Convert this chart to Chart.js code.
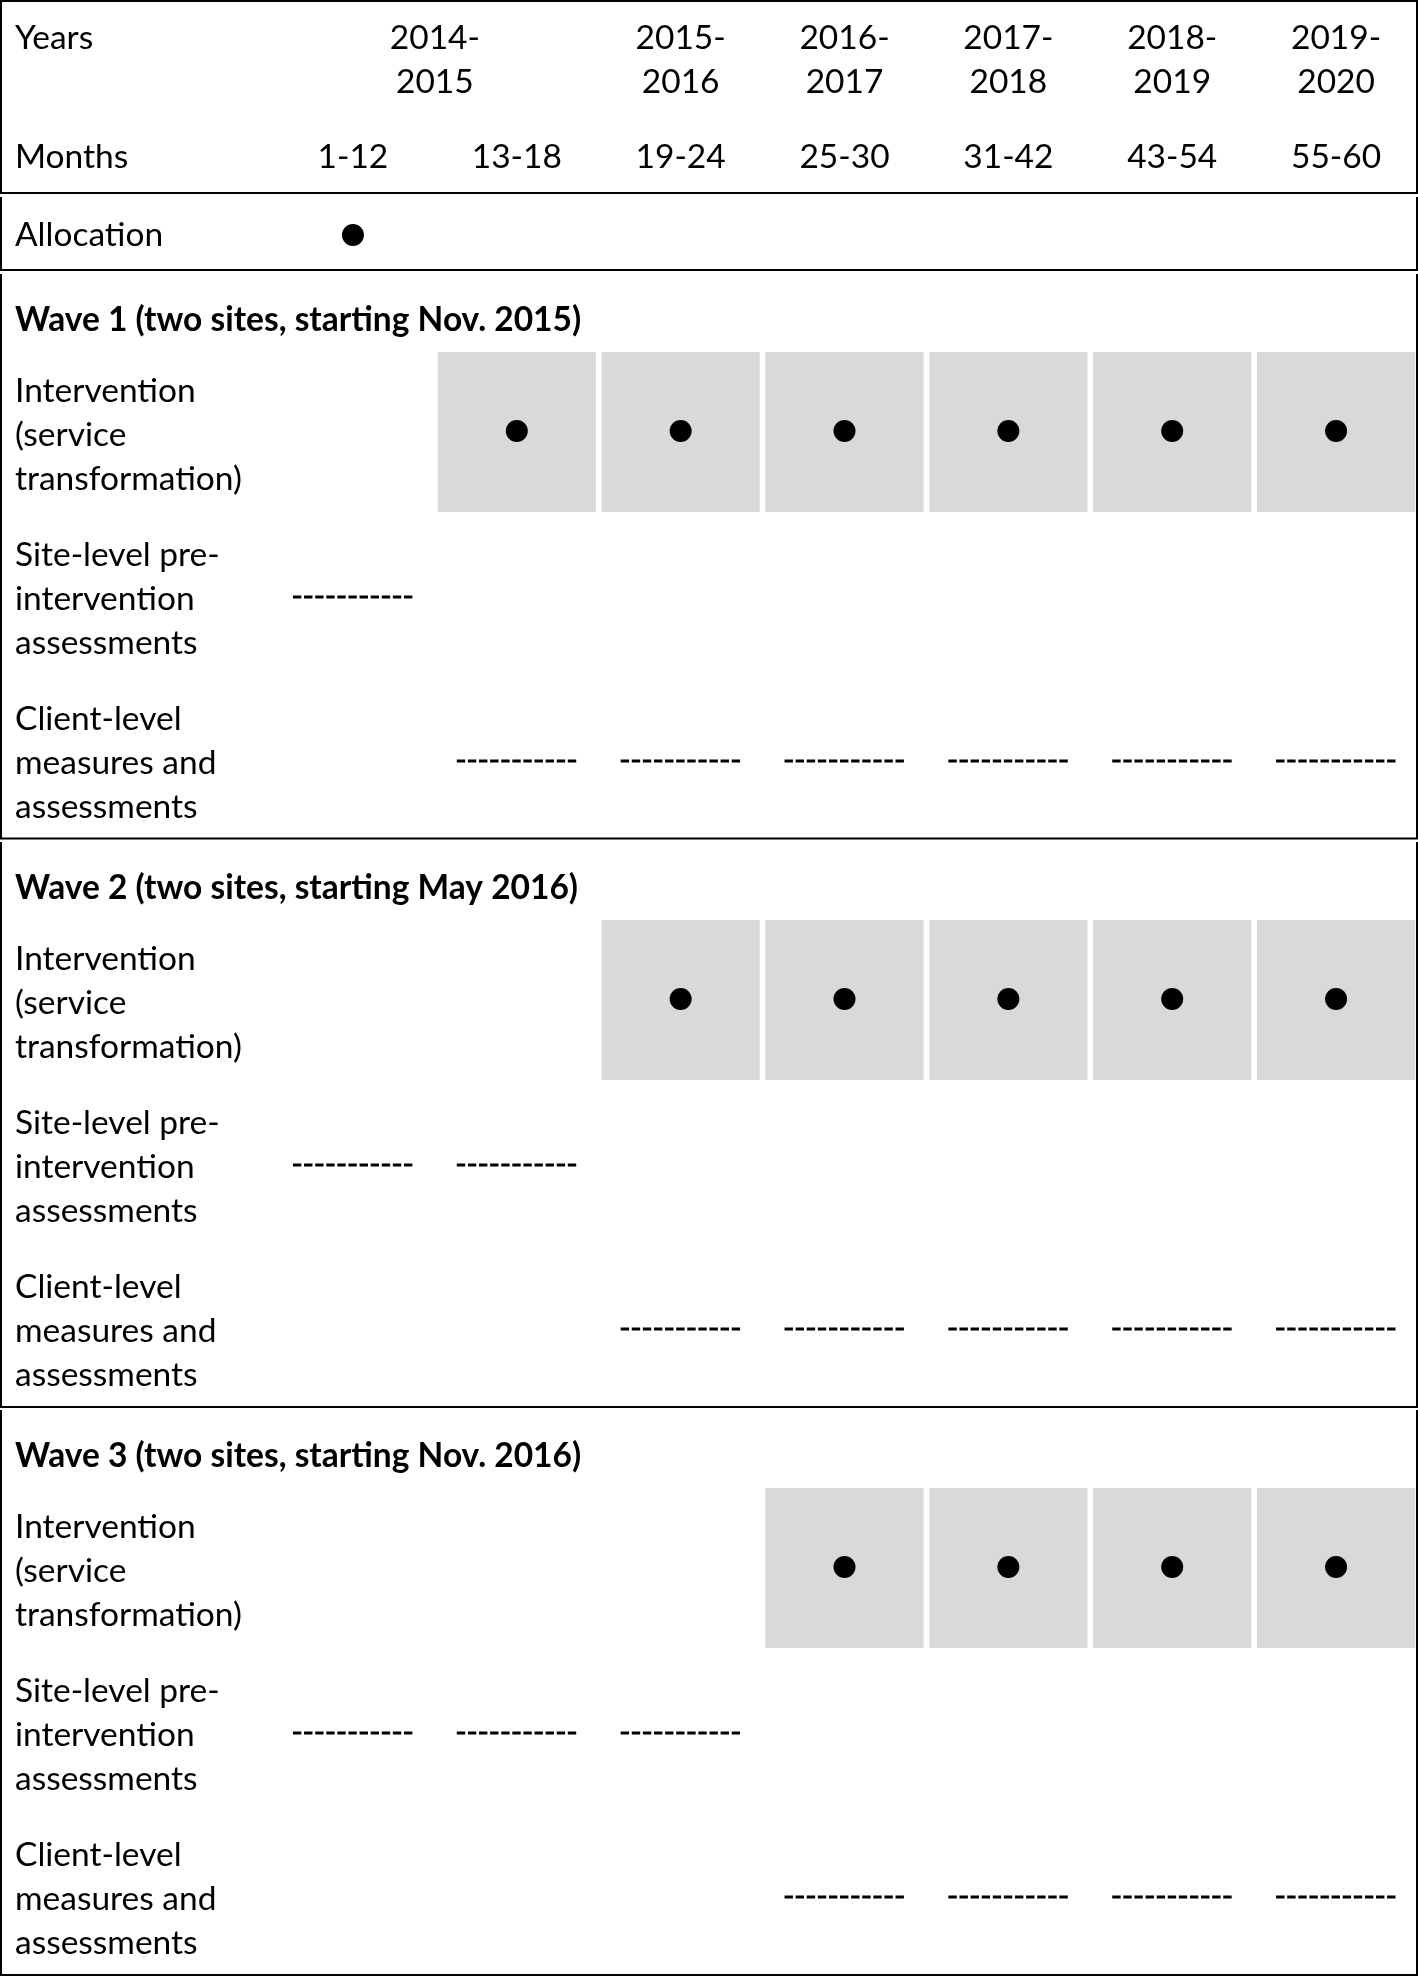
<!DOCTYPE html>
<html>
<head>
<meta charset="utf-8">
<script src="https://cdn.jsdelivr.net/npm/chart.js@4.4.1/dist/chart.umd.min.js"></script>
<style>
  html, body { margin: 0; padding: 0; background: #ffffff; }
  #wrap { width: 1418px; height: 1976px; position: relative; }
</style>
</head>
<body>
<div id="wrap"><canvas id="c"></canvas></div>
<script>
// ---------------- DATA ----------------
const months = ['1-12', '13-18', '19-24', '25-30', '31-42', '43-54', '55-60'];
const yearLabels = [['2014-', '2015'], ['2015-', '2016'], ['2016-', '2017'], ['2017-', '2018'], ['2018-', '2019'], ['2019-', '2020']];
const yearSpans = [[0, 1], [2, 2], [3, 3], [4, 4], [5, 5], [6, 6]];
const headerLabels = ['Years', 'Months'];
const allocationLabel = 'Allocation';
const allocationCols = [0];
const waveTitles = [
  'Wave 1 (two sites, starting Nov. 2015)',
  'Wave 2 (two sites, starting May 2016)',
  'Wave 3 (two sites, starting Nov. 2016)'
];
const interventionLabel = ['Intervention', '(service', 'transformation)'];
const siteLabel = ['Site-level pre-', 'intervention', 'assessments'];
const clientLabel = ['Client-level', 'measures and', 'assessments'];
const interventionCols = [[1, 2, 3, 4, 5, 6], [2, 3, 4, 5, 6], [3, 4, 5, 6]];
const siteCols = [[0], [0, 1], [0, 1, 2]];
const clientCols = [[1, 2, 3, 4, 5, 6], [2, 3, 4, 5, 6], [3, 4, 5, 6]];

// ---------------- LAYOUT (not data) ----------------
const LAY = {
  labelX: 15,
  yearBase: [49, 93],
  monthBase: 168,
  allocRow: 235,
  allocBase: 246,
  waveTop: [272, 840, 1408],
  titleBase: 59,
  rowLineBase: { intervention: 130, site: 294, client: 458 },
  lineStep: 44,
  cellTop: 80, cellBottom: 240,
  dotRow: 159, siteRow: 325, clientRow: 489,
  dashHalf: 0.366,
  font: 'Lato, "Open Sans", sans-serif',
  fontSize: 33.5
};
const boxes = [[1, 193], [197, 270], [274, 838.5], [842, 1407], [1410, 1975]];

// ---------------- DATASETS ----------------
const datasets = [];
// grey intervention cells
interventionCols.forEach((cols, w) => {
  const top = LAY.waveTop[w];
  datasets.push({
    type: 'bar',
    data: cols.map(c => ({ x: c, y: [top + LAY.cellTop, top + LAY.cellBottom] })),
    backgroundColor: '#d9d9d9',
    borderWidth: 0,
    grouped: false,
    barPercentage: 0.966,
    categoryPercentage: 1,
    order: 3
  });
});
// dots
const dotPts = allocationCols.map(c => ({ x: c, y: LAY.allocRow }));
interventionCols.forEach((cols, w) => cols.forEach(c => dotPts.push({ x: c, y: LAY.waveTop[w] + LAY.dotRow })));
datasets.push({
  type: 'scatter',
  data: dotPts,
  pointRadius: 11,
  pointHoverRadius: 11,
  backgroundColor: '#000',
  borderWidth: 0,
  order: 1
});
// dashed lines
function dashPts(cols, y) {
  const pts = [];
  cols.forEach(c => {
    pts.push({ x: c - LAY.dashHalf, y: y });
    pts.push({ x: c + LAY.dashHalf, y: y });
    pts.push({ x: c + 0.5, y: null });
  });
  return pts;
}
[siteCols, clientCols].forEach((set, k) => {
  set.forEach((cols, w) => {
    const y = LAY.waveTop[w] + (k === 0 ? LAY.siteRow : LAY.clientRow);
    datasets.push({
      type: 'line',
      data: dashPts(cols, y),
      borderColor: '#000',
      borderWidth: 3.2,
      borderDash: [8.4, 2.7],
      borderCapStyle: 'butt',
      pointRadius: 0,
      spanGaps: false,
      fill: false,
      order: 2
    });
  });
});

// ---------------- TEXT / FRAME PLUGIN ----------------
const tablePlugin = {
  id: 'tablePlugin',
  afterDatasetsDraw(chart) {
    const ctx = chart.ctx;
    const xs = chart.scales.x;
    const W = chart.width;
    ctx.save();
    // frame
    ctx.strokeStyle = '#000';
    ctx.lineWidth = 2;
    ctx.beginPath();
    ctx.moveTo(0, 1); ctx.lineTo(W, 1);
    boxes.forEach(([t, b]) => {
      ctx.moveTo(1, t); ctx.lineTo(1, b);
      ctx.moveTo(W - 1, t); ctx.lineTo(W - 1, b);
      ctx.moveTo(0, b); ctx.lineTo(W, b);
    });
    ctx.stroke();

    ctx.fillStyle = '#000';
    ctx.textBaseline = 'alphabetic';
    const reg = LAY.fontSize + 'px ' + LAY.font;
    const bold = 'bold ' + LAY.fontSize + 'px ' + LAY.font;
    ctx.font = reg;
    // header labels
    ctx.textAlign = 'left';
    ctx.fillText(headerLabels[0], LAY.labelX, LAY.yearBase[0]);
    ctx.fillText(headerLabels[1], LAY.labelX, LAY.monthBase);
    ctx.fillText(allocationLabel, LAY.labelX, LAY.allocBase);
    ctx.textAlign = 'center';
    yearLabels.forEach((lines, i) => {
      const cx = xs.getPixelForValue((yearSpans[i][0] + yearSpans[i][1]) / 2);
      lines.forEach((ln, j) => ctx.fillText(ln, cx, LAY.yearBase[j]));
    });
    months.forEach((m, i) => ctx.fillText(m, xs.getPixelForValue(i), LAY.monthBase));
    // waves
    ctx.textAlign = 'left';
    waveTitles.forEach((t, w) => {
      const top = LAY.waveTop[w];
      ctx.font = bold;
      ctx.fillText(t, LAY.labelX, top + LAY.titleBase);
      ctx.font = reg;
      [[interventionLabel, 'intervention'], [siteLabel, 'site'], [clientLabel, 'client']].forEach(([lines, key]) => {
        lines.forEach((ln, j) => ctx.fillText(ln, LAY.labelX, top + LAY.rowLineBase[key] + j * LAY.lineStep));
      });
    });
    ctx.restore();
  }
};

new Chart(document.getElementById('c'), {
  type: 'scatter',
  data: { datasets: datasets },
  options: {
    responsive: true,
    maintainAspectRatio: false,
    animation: false,
    events: [],
    layout: { autoPadding: false, padding: { left: 271, right: 0, top: 0, bottom: 0 } },
    plugins: { legend: { display: false }, tooltip: { enabled: false }, title: { display: false } },
    scales: {
      x: { type: 'linear', min: -0.5, max: 6.5, offset: false, display: false, ticks: { stepSize: 1 } },
      y: { type: 'linear', min: 0, max: 1976, reverse: true, display: false }
    }
  },
  plugins: [tablePlugin]
});
</script>
</body>
</html>
